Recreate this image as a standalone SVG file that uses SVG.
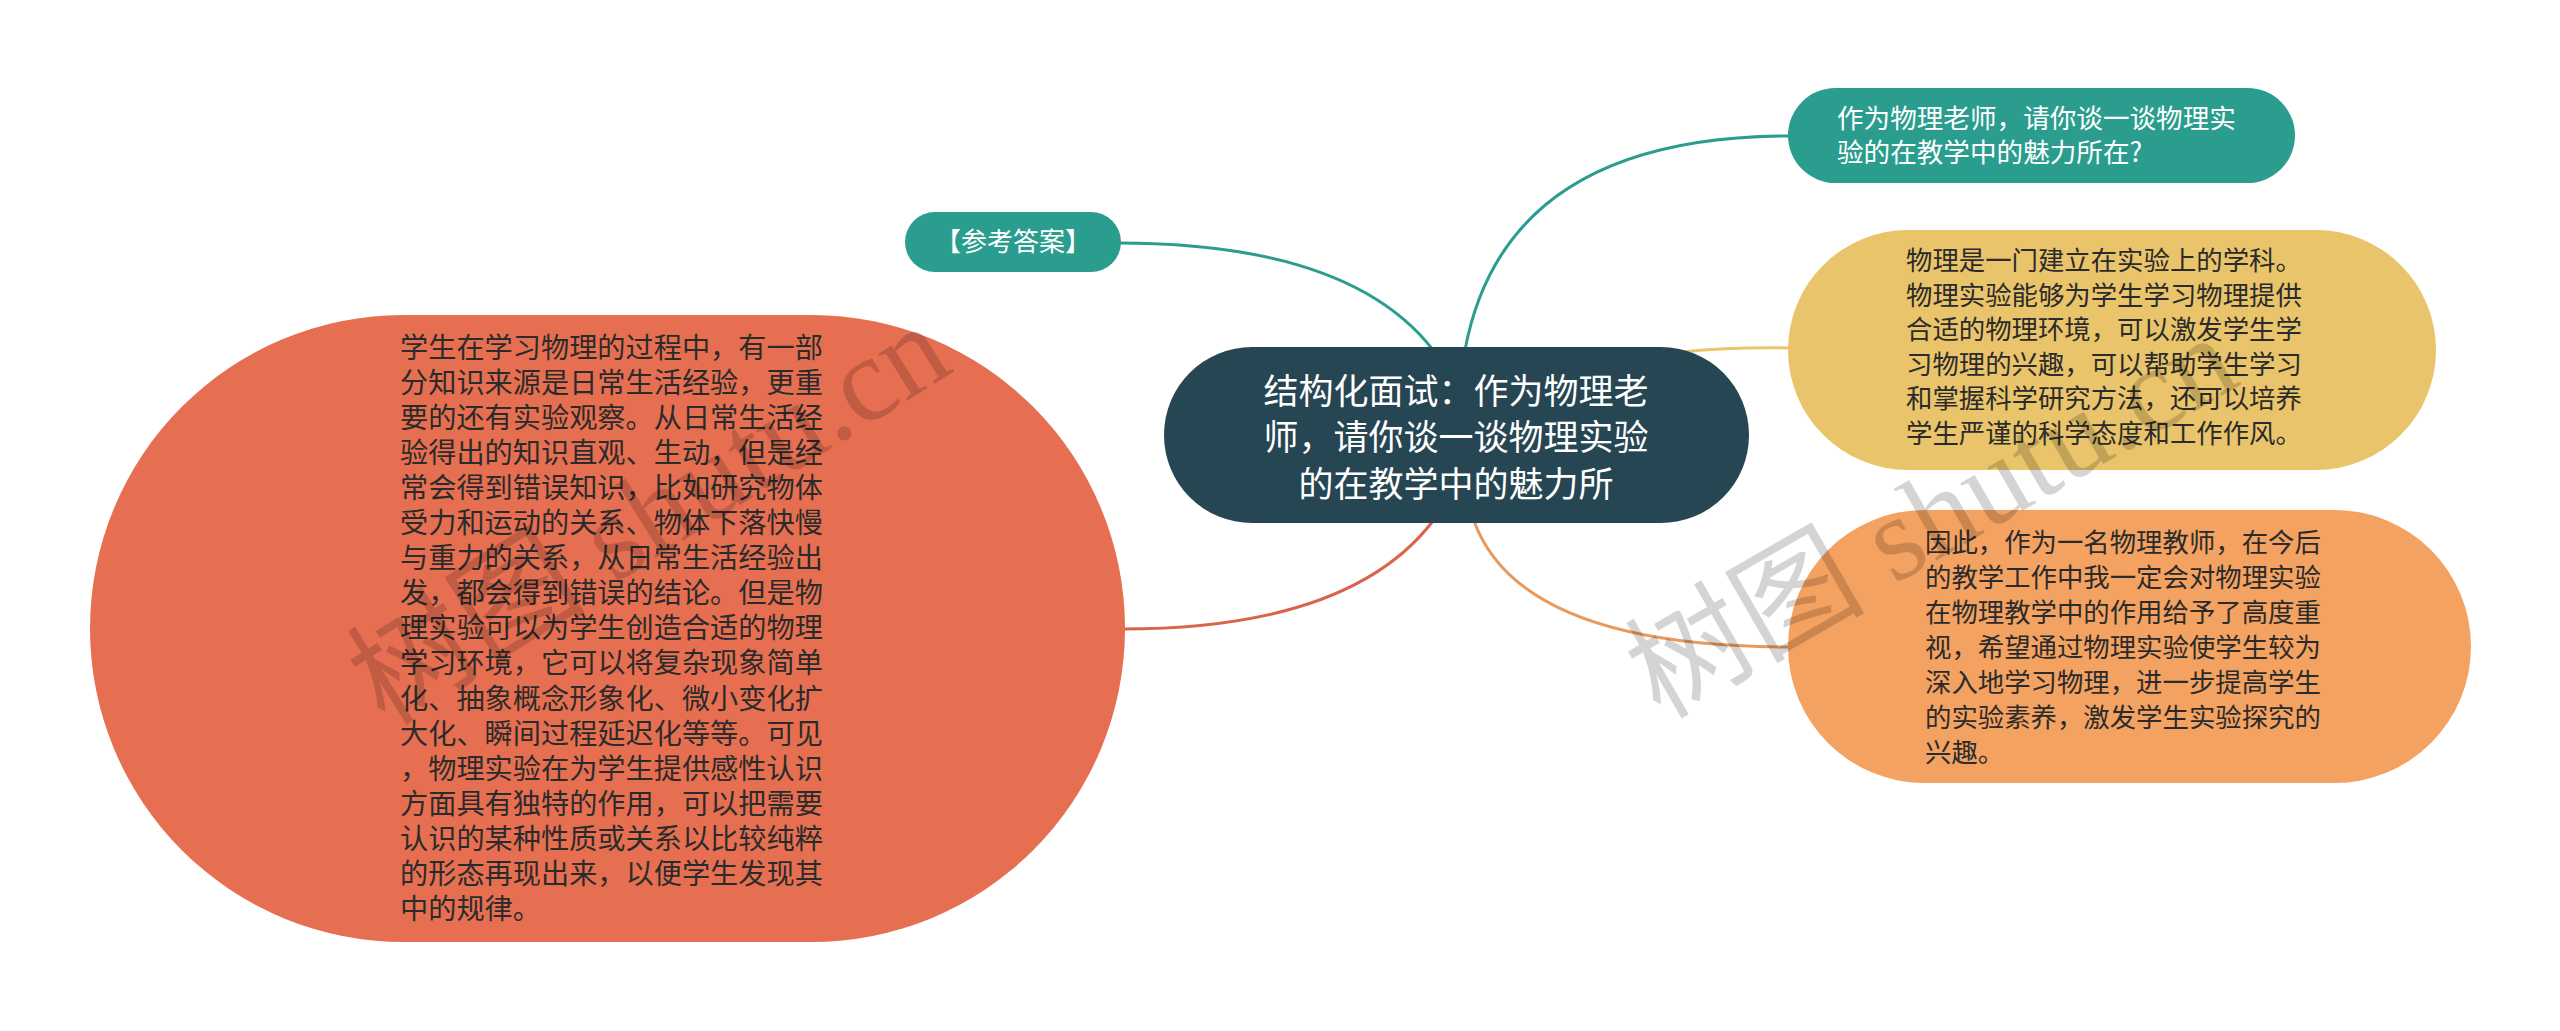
<svg xmlns="http://www.w3.org/2000/svg" width="2560" height="1031" viewBox="0 0 2560 1031">
<style>
.t{font-family:"Noto Sans CJK SC","Noto Sans",sans-serif;}
.w{fill:#ffffff;}
.d{fill:#2b2b2b;}
.ln{fill:none;stroke-width:3;stroke-linecap:round;}
.wm{font-family:"Liberation Serif","Noto Sans CJK SC",serif;font-size:120px;fill:#000;fill-opacity:0.17;}
</style>
<rect x="0" y="0" width="2560" height="1031" fill="#ffffff"/>
<g id="connectors">
<path class="ln" stroke="#2a9d8f" d="M1465,350 Q1505,136 1790,136"/>
<path class="ln" stroke="#2a9d8f" d="M1433,350 Q1350,243 1118,243"/>
<path class="ln" stroke="#e9c46a" d="M1683,352 Q1730,347 1790,348"/>
<path class="ln" stroke="#e9995a" d="M1474,521 Q1520,647 1790,647"/>
<path class="ln" stroke="#d9644a" d="M1433,521 Q1350,629 1122,629"/>
</g>
<g id="node-root">
<rect x="1164" y="347" width="585" height="176" rx="88" fill="#264653"/>
<text class="t w" font-size="35" text-anchor="middle"><tspan x="1456" y="404">结构化面试：作为物理老</tspan><tspan x="1456" y="450">师，请你谈一谈物理实验</tspan><tspan x="1456" y="497">的在教学中的魅力所</tspan></text>
</g>
<g id="node-question">
<rect x="1788" y="88" width="507" height="95" rx="47.5" fill="#2a9d8f"/>
<text class="t w" font-size="26.6"><tspan x="1837" y="128">作为物理老师，请你谈一谈物理实</tspan><tspan x="1837" y="162">验的在教学中的魅力所在?</tspan></text>
</g>
<g id="node-answer">
<rect x="905" y="212" width="216" height="60" rx="30" fill="#2a9d8f"/>
<text class="t w" font-size="26" text-anchor="middle" x="1013" y="251">【参考答案】</text>
</g>
<g id="node-yellow">
<rect x="1788" y="230" width="648" height="240" rx="120" fill="#e9c46a"/>
<text class="t d" font-size="26.4"><tspan x="1906" y="270">物理是一门建立在实验上的学科。</tspan><tspan x="1906" y="305">物理实验能够为学生学习物理提供</tspan><tspan x="1906" y="339">合适的物理环境，可以激发学生学</tspan><tspan x="1906" y="374">习物理的兴趣，可以帮助学生学习</tspan><tspan x="1906" y="408">和掌握科学研究方法，还可以培养</tspan><tspan x="1906" y="443">学生严谨的科学态度和工作作风。</tspan></text>
</g>
<g id="node-orange">
<rect x="1788" y="510" width="683" height="273" rx="136.5" fill="#f4a261"/>
<text class="t d" font-size="26.4"><tspan x="1925" y="552">因此，作为一名物理教师，在今后</tspan><tspan x="1925" y="587">的教学工作中我一定会对物理实验</tspan><tspan x="1925" y="622">在物理教学中的作用给予了高度重</tspan><tspan x="1925" y="657">视，希望通过物理实验使学生较为</tspan><tspan x="1925" y="692">深入地学习物理，进一步提高学生</tspan><tspan x="1925" y="727">的实验素养，激发学生实验探究的</tspan><tspan x="1925" y="762">兴趣。</tspan></text>
</g>
<g id="node-red">
<rect x="90" y="315" width="1035" height="627" rx="313.5" fill="#e76f51"/>
<text class="t d" font-size="28.2"><tspan x="400" y="358">学生在学习物理的过程中，有一部</tspan><tspan x="400" y="393">分知识来源是日常生活经验，更重</tspan><tspan x="400" y="428">要的还有实验观察。从日常生活经</tspan><tspan x="400" y="463">验得出的知识直观、生动，但是经</tspan><tspan x="400" y="498">常会得到错误知识，比如研究物体</tspan><tspan x="400" y="533">受力和运动的关系、物体下落快慢</tspan><tspan x="400" y="568">与重力的关系，从日常生活经验出</tspan><tspan x="400" y="603">发，都会得到错误的结论。但是物</tspan><tspan x="400" y="638">理实验可以为学生创造合适的物理</tspan><tspan x="400" y="673">学习环境，它可以将复杂现象简单</tspan><tspan x="400" y="709">化、抽象概念形象化、微小变化扩</tspan><tspan x="400" y="744">大化、瞬间过程延迟化等等。可见</tspan><tspan x="400" y="779">，物理实验在为学生提供感性认识</tspan><tspan x="400" y="814">方面具有独特的作用，可以把需要</tspan><tspan x="400" y="849">认识的某种性质或关系以比较纯粹</tspan><tspan x="400" y="884">的形态再现出来，以便学生发现其</tspan><tspan x="400" y="919">中的规律。</tspan></text>
</g>
<g id="watermarks">
<text class="wm" x="385" y="727" transform="rotate(-32 385 727)">树图 shutu.cn</text>
<text class="wm" x="1660" y="720" transform="rotate(-30 1660 720)">树图 shutu.cn</text>
</g>
</svg>
